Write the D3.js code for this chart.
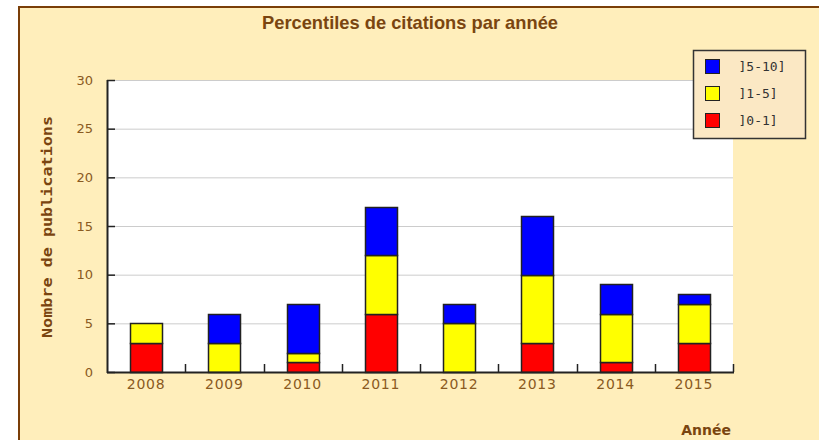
<!DOCTYPE html>
<html>
<head>
<meta charset="utf-8">
<script src="https://cdn.jsdelivr.net/npm/d3@7"></script>
<style>
  body { margin: 0; background: #fff; overflow: hidden; }
  svg { display: block; }
</style>
</head>
<body>
<svg></svg>
<script>
const years = ['2008', '2009', '2010', '2011', '2012', '2013', '2014', '2015'];
const seriesNames = [']0-1]', ']1-5]', ']5-10]'];
const seriesColors = ['#ff0000', '#ffff00', '#0000ff'];
const r01 = [3, 0, 1, 6, 0, 3, 1, 3];
const r15 = [2, 3, 1, 6, 5, 7, 5, 4];
const r510 = [0, 3, 5, 5, 2, 6, 3, 1];
const yTicks = [0, 5, 10, 15, 20, 25, 30];

const width = 819, height = 440;
const svg = d3.select('svg').attr('width', width).attr('height', height);

// frame (only left and top edges are visible)
svg.append('rect')
  .attr('x', 18).attr('y', 6)
  .attr('width', width - 18).attr('height', height - 6)
  .attr('fill', '#ffeebb');
svg.append('path')
  .attr('d', `M19,${height}V7H${width}`)
  .attr('fill', 'none')
  .attr('stroke', '#7a3e08')
  .attr('stroke-width', 2);

const plotLeft = 107, plotRight = 733, plotTop = 80, plotBottom = 372;

const x = d3.scaleBand().domain(years).range([plotLeft, plotRight]).paddingInner(0.59).paddingOuter(0.295);
const xb = d3.scaleBand().domain(years).range([plotLeft, plotRight]);
const y = d3.scaleLinear().domain([0, 30]).range([plotBottom, plotTop]);

// plot background
svg.append('rect')
  .attr('x', plotLeft).attr('y', plotTop)
  .attr('width', plotRight - plotLeft).attr('height', plotBottom - plotTop)
  .attr('fill', '#ffffff');

// gridlines
svg.append('g').selectAll('line')
  .data(yTicks.filter(d => d > 0))
  .enter().append('line')
  .attr('x1', plotLeft).attr('x2', plotRight)
  .attr('y1', d => y(d) + 0.5).attr('y2', d => y(d) + 0.5)
  .attr('stroke', '#cccccc')
  .attr('stroke-width', 1);

// stacked data
const rows = years.map((yr, i) => ({ year: yr, s0: r01[i], s1: r15[i], s2: r510[i] }));
const stack = d3.stack().keys(['s0', 's1', 's2'])(rows);

svg.append('g').selectAll('g')
  .data(stack)
  .enter().append('g')
  .attr('fill', (d, i) => seriesColors[i])
  .selectAll('rect')
  .data(d => d.filter(p => p[1] > p[0]))
  .enter().append('rect')
  .attr('x', d => Math.round(x(d.data.year)) + 0.5)
  .attr('y', d => Math.round(y(d[1])) + 0.5)
  .attr('width', Math.round(x.bandwidth()))
  .attr('height', d => Math.round(y(d[0])) - Math.round(y(d[1])))
  .attr('stroke', '#222222')
  .attr('stroke-width', 1.5);

const tickColor = '#8a5a22';

// y axis
const yAxis = svg.append('g');
yAxis.append('line')
  .attr('x1', plotLeft + 0.5).attr('x2', plotLeft + 0.5)
  .attr('y1', plotTop).attr('y2', plotBottom + 1)
  .attr('stroke', '#222').attr('stroke-width', 2);
yAxis.selectAll('line.tk')
  .data(yTicks)
  .enter().append('line')
  .attr('class', 'tk')
  .attr('x1', plotLeft).attr('x2', plotLeft + 8)
  .attr('y1', d => y(d) + 0.5).attr('y2', d => y(d) + 0.5)
  .attr('stroke', '#222').attr('stroke-width', 1.5);
yAxis.selectAll('text')
  .data(yTicks)
  .enter().append('text')
  .attr('x', 93)
  .attr('y', d => y(d))
  .attr('dy', '0.36em')
  .attr('text-anchor', 'end')
  .attr('fill', tickColor)
  .style('font', '13px "DejaVu Sans"')
  .text(d => d);

// x axis
const xAxis = svg.append('g');
xAxis.append('line')
  .attr('x1', plotLeft).attr('x2', plotRight + 1)
  .attr('y1', plotBottom + 0.5).attr('y2', plotBottom + 0.5)
  .attr('stroke', '#222').attr('stroke-width', 2);
xAxis.selectAll('line.tk')
  .data(years)
  .enter().append('line')
  .attr('class', 'tk')
  .attr('x1', d => Math.round(xb(d) + xb.bandwidth()) + 0.5)
  .attr('x2', d => Math.round(xb(d) + xb.bandwidth()) + 0.5)
  .attr('y1', plotBottom).attr('y2', plotBottom - 8)
  .attr('stroke', '#222').attr('stroke-width', 1.5);
xAxis.selectAll('text')
  .data(years)
  .enter().append('text')
  .attr('x', d => x(d) + x.bandwidth() / 2)
  .attr('y', 389)
  .attr('text-anchor', 'middle')
  .attr('fill', tickColor)
  .style('font', '14px "DejaVu Sans"')
  .style('letter-spacing', '0.8px')
  .text(d => d);

// title
svg.append('text')
  .attr('x', 410).attr('y', 29)
  .attr('text-anchor', 'middle')
  .attr('fill', '#7a4510')
  .attr('textLength', 296)
  .attr('lengthAdjust', 'spacingAndGlyphs')
  .style('font', 'bold 19px "Liberation Sans Narrow", "Liberation Sans", sans-serif')
  .text('Percentiles de citations par année');

// axis titles
svg.append('text')
  .attr('transform', 'translate(52,227) rotate(-90)')
  .attr('text-anchor', 'middle')
  .attr('fill', '#7a4510')
  .attr('textLength', 222)
  .attr('lengthAdjust', 'spacingAndGlyphs')
  .style('font', 'bold 14px "DejaVu Sans Mono"')
  .text('Nombre de publications');

svg.append('text')
  .attr('x', 731).attr('y', 435)
  .attr('text-anchor', 'end')
  .attr('fill', '#7a4510')
  .style('font', 'bold 14px "DejaVu Sans"')
  .text('Année');

// legend
const legend = svg.append('g').attr('transform', 'translate(693.5,50.5)');
legend.append('rect')
  .attr('width', 112).attr('height', 88)
  .attr('fill', '#fbe8c4')
  .attr('stroke', '#333').attr('stroke-width', 1.5);
const legendItems = [2, 1, 0];
const li = legend.selectAll('g.item')
  .data(legendItems)
  .enter().append('g')
  .attr('class', 'item')
  .attr('transform', (d, i) => `translate(12,${9 + i * 27})`);
li.append('rect')
  .attr('width', 14).attr('height', 14)
  .attr('fill', d => seriesColors[d])
  .attr('stroke', '#222').attr('stroke-width', 1);
li.append('text')
  .attr('x', 33).attr('y', 7)
  .attr('dy', '0.36em')
  .attr('fill', '#333')
  .style('font', '13px "DejaVu Sans Mono"')
  .text(d => seriesNames[d]);
</script>
</body>
</html>
